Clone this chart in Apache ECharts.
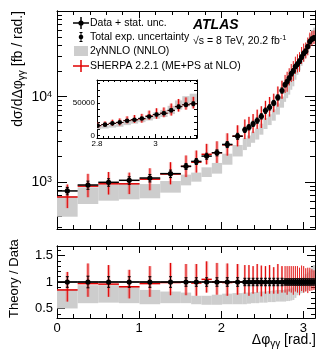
<!DOCTYPE html>
<html>
<head>
<meta charset="utf-8">
<script src="https://cdn.jsdelivr.net/npm/echarts@6/dist/echarts.min.js"></script>
<style>
html, body { margin: 0; padding: 0; background: #fff; }
#chart { width: 332px; height: 356px; }
</style>
</head>
<body>
<div id="chart"></div>
<script>
// ---------------------------------------------
// data
// ---------------------------------------------

// bin edges, in units of pi
const binEdgesPi = [
    0, 0.08, 0.16, 0.24, 0.32, 0.40, 0.48,
    0.52, 0.56, 0.60, 0.64, 0.68, 0.72,
    0.736, 0.752, 0.768, 0.784, 0.80, 0.816, 0.832, 0.848, 0.864, 0.88,
    0.888, 0.896, 0.904, 0.912, 0.92, 0.928, 0.936, 0.944, 0.952, 0.96,
    0.968, 0.976, 0.984, 0.992, 1.0
];

// measured dsigma/dphi [fb/rad]
const dataXsec = [
    793, 930, 1000, 1055, 1122, 1262,
    1535, 1754, 2022, 2215, 2767, 3454,
    4100, 4400, 4820, 5260, 5900, 6870, 7510, 8450, 9800, 11800,
    13800, 15000, 16500, 18500, 20000, 22500, 24000, 26000, 29000,
    32000, 34000, 38500, 44000, 47000, 48500
];

// relative uncertainties of the data
const statRel = [
    0.04, 0.04, 0.04, 0.04, 0.04, 0.04,
    0.03, 0.03, 0.03, 0.03, 0.03, 0.03,
    0.025, 0.025, 0.025, 0.025, 0.025, 0.025, 0.025, 0.025, 0.025, 0.025,
    0.02, 0.02, 0.02, 0.02, 0.02, 0.02, 0.02, 0.02, 0.02,
    0.02, 0.02, 0.02, 0.02, 0.02, 0.02
];
const totRel = [
    0.10, 0.11, 0.10, 0.10, 0.10, 0.10,
    0.08, 0.08, 0.08, 0.08, 0.08, 0.08,
    0.07, 0.07, 0.07, 0.07, 0.07, 0.07, 0.07, 0.07, 0.07, 0.07,
    0.06, 0.06, 0.06, 0.06, 0.06, 0.06, 0.06, 0.06, 0.06,
    0.06, 0.06, 0.06, 0.06, 0.06, 0.06
];

// 2gammaNNLO band, as theory / data
const nnloLo = [
    0.50, 0.60, 0.61, 0.60, 0.58, 0.60,
    0.60, 0.58, 0.57, 0.57, 0.58, 0.58,
    0.58, 0.59, 0.60, 0.60, 0.61, 0.61, 0.62, 0.62, 0.63, 0.63,
    0.63, 0.64, 0.64, 0.65, 0.66, 0.70, 0.75, 0.78, 0.79,
    0.80, 0.83, 0.85, 0.90, 0.95, 1.04
];
const nnloHi = [
    0.86, 0.94, 0.94, 0.92, 0.85, 0.82,
    0.80, 0.74, 0.74, 0.76, 0.78, 0.79,
    0.80, 0.80, 0.81, 0.81, 0.82, 0.82, 0.83, 0.84, 0.85, 0.85,
    0.86, 0.86, 0.87, 0.88, 0.90, 0.95, 1.00, 1.05, 1.08,
    1.10, 1.15, 1.18, 1.22, 1.28, 1.32
];

// SHERPA 2.2.1, as theory / data, with its uncertainty
const sherpaR = [
    0.85, 0.97, 0.96, 0.91, 0.97, 0.99,
    1.00, 0.98, 1.05, 1.00, 0.99, 1.00,
    1.00, 0.98, 1.00, 1.02, 0.97, 1.00, 1.00, 0.98, 1.00, 1.00,
    1.00, 0.98, 1.02, 1.00, 0.98, 1.02, 1.00, 0.97, 1.03,
    1.00, 1.00, 0.99, 1.01, 1.00, 1.00
];
const sherpaUp = [
    0.34, 0.38, 0.36, 0.32, 0.33, 0.37,
    0.34, 0.36, 0.34, 0.36, 0.36, 0.34,
    0.32, 0.34, 0.30, 0.32, 0.34, 0.30, 0.32, 0.30, 0.34, 0.30,
    0.30, 0.32, 0.28, 0.30, 0.32, 0.28, 0.30, 0.30, 0.28,
    0.30, 0.26, 0.28, 0.26, 0.24, 0.22
];
const sherpaDn = [
    0.22, 0.25, 0.24, 0.22, 0.25, 0.24,
    0.25, 0.24, 0.25, 0.24, 0.25, 0.24,
    0.22, 0.24, 0.22, 0.22, 0.24, 0.22, 0.22, 0.20, 0.22, 0.20,
    0.20, 0.22, 0.20, 0.20, 0.22, 0.20, 0.20, 0.22, 0.20,
    0.20, 0.18, 0.20, 0.18, 0.16, 0.15
];

// axis ticks
const mainMajorTicks = [1000, 10000, 100000];
const mainMinorTicks = [
    300, 400, 500, 600, 700, 800, 900,
    2000, 3000, 4000, 5000, 6000, 7000, 8000, 9000,
    20000, 30000, 40000, 50000, 60000, 70000, 80000, 90000
];
const mainLabels = [1000, 10000];
const ratioMajorTicks = [0.5, 1, 1.5];
const ratioMinorTicks = [0.4, 0.6, 0.7, 0.8, 0.9, 1.1, 1.2, 1.3, 1.4, 1.6];
const xLabels = [0, 1, 2, 3];
const insetXLabels = [2.8, 3];
const insetYLabels = [0, 50000];
const insetYTicks = [0, 10000, 20000, 30000, 40000, 50000, 60000, 70000, 80000];

// ---------------------------------------------
// rows for the custom series
// ---------------------------------------------

const FONT = "Liberation Sans, Arial, sans-serif";
const edges = binEdgesPi.map(e => e * Math.PI);

function rows(fn) {
    const out = [];
    for (let i = 0; i < dataXsec.length; i++) {
        out.push(fn(i, edges[i], edges[i + 1], dataXsec[i]));
    }
    return out;
}

const dataMain = rows((i, a, b, d) => [a, b, d,
    d * (1 - statRel[i]), d * (1 + statRel[i]),
    d * (1 - totRel[i]), d * (1 + totRel[i])]);
const dataRatio = rows((i, a, b) => [a, b, 1,
    1 - statRel[i], 1 + statRel[i],
    1 - totRel[i], 1 + totRel[i]]);
const nnloMain = rows((i, a, b, d) => [a, b, nnloLo[i] * d, nnloHi[i] * d]);
const nnloRatio = rows((i, a, b) => [a, b, nnloLo[i], nnloHi[i]]);
const sherpaMain = rows((i, a, b, d) => [a, b, sherpaR[i] * d,
    (sherpaR[i] - sherpaDn[i]) * d, (sherpaR[i] + sherpaUp[i]) * d]);
const sherpaRatio = rows((i, a, b) => [a, b, sherpaR[i],
    sherpaR[i] - sherpaDn[i], sherpaR[i] + sherpaUp[i]]);

// ---------------------------------------------
// render helpers
// ---------------------------------------------

function renderBand(params, api) {
    const p0 = api.coord([api.value(0), api.value(3)]);
    const p1 = api.coord([api.value(1), api.value(2)]);
    return {
        type: "rect",
        shape: { x: p0[0], y: p0[1], width: p1[0] - p0[0], height: p1[1] - p0[1] },
        style: { fill: "#cdcdcd" }
    };
}

function makeSherpa(lw) {
    return function (params, api) {
        const x0 = api.value(0), x1 = api.value(1), xm = (x0 + x1) / 2;
        const l = api.coord([x0, api.value(2)]);
        const r = api.coord([x1, api.value(2)]);
        const t = api.coord([xm, api.value(4)]);
        const b = api.coord([xm, api.value(3)]);
        // pink part gets narrower in the fine bins
        const w = Math.min(3.2, (r[0] - l[0]) * 0.5);
        return {
            type: "group",
            children: [
                {
                    type: "rect",
                    shape: { x: t[0] - w / 2, y: t[1], width: w, height: b[1] - t[1] },
                    style: { fill: "rgba(236,110,110,0.55)" }
                },
                {
                    type: "line",
                    shape: { x1: t[0], y1: t[1], x2: b[0], y2: b[1] },
                    style: { stroke: "#e00000", lineWidth: w < 2 ? 0.8 : 1 }
                },
                {
                    type: "line",
                    shape: { x1: l[0], y1: l[1], x2: r[0], y2: r[1] },
                    style: { stroke: "#e00000", lineWidth: lw }
                }
            ]
        };
    };
}

function makeData(rad, lw) {
    return function (params, api) {
        const x0 = api.value(0), x1 = api.value(1), xm = (x0 + x1) / 2;
        const l = api.coord([x0, api.value(2)]);
        const r = api.coord([x1, api.value(2)]);
        const c = api.coord([xm, api.value(2)]);
        const st = api.coord([xm, api.value(4)]);
        const sb = api.coord([xm, api.value(3)]);
        const tt = api.coord([xm, api.value(6)]);
        const tb = api.coord([xm, api.value(5)]);
        const ink = { stroke: "#000", lineWidth: 1 };
        return {
            type: "group",
            children: [
                { type: "line", shape: { x1: l[0], y1: l[1], x2: r[0], y2: r[1] }, style: { stroke: "#000", lineWidth: lw } },
                { type: "line", shape: { x1: tt[0], y1: tt[1], x2: tb[0], y2: tb[1] }, style: ink },
                { type: "line", shape: { x1: tt[0] - 1.5, y1: tt[1], x2: tt[0] + 1.5, y2: tt[1] }, style: ink },
                { type: "line", shape: { x1: tb[0] - 1.5, y1: tb[1], x2: tb[0] + 1.5, y2: tb[1] }, style: ink },
                { type: "line", shape: { x1: st[0], y1: st[1], x2: sb[0], y2: sb[1] }, style: { stroke: "#000", lineWidth: 1.6 } },
                { type: "circle", shape: { cx: c[0], cy: c[1], r: rad }, style: { fill: "#000" } }
            ]
        };
    };
}

// ---------------------------------------------
// axes
// ---------------------------------------------

const lineStyle = { color: "#000", width: 1 };

function xAxisDef(grid, pos, labels) {
    return {
        type: "value",
        gridIndex: grid,
        position: pos,
        min: 0,
        max: Math.PI,
        interval: 1,
        axisLine: { show: true, onZero: false, lineStyle: lineStyle },
        axisTick: { show: true, inside: true, length: 7, lineStyle: lineStyle },
        minorTick: { show: true, splitNumber: 5, length: 4, lineStyle: lineStyle },
        splitLine: { show: false },
        axisLabel: labels ? {
            customValues: labels,
            margin: 4,
            fontSize: 13,
            color: "#000",
            fontFamily: FONT
        } : { show: false }
    };
}

function yAxisDef(grid, pos, type, min, max, ticks, len, labels, labelOpt) {
    return {
        type: type,
        gridIndex: grid,
        position: pos,
        min: min,
        max: max,
        axisLine: { show: true, onZero: false, lineStyle: lineStyle },
        axisTick: { show: true, inside: true, length: len, customValues: ticks, lineStyle: lineStyle },
        minorTick: { show: false },
        splitLine: { show: false },
        axisLabel: labels ? Object.assign({
            customValues: labels,
            color: "#000",
            fontFamily: FONT
        }, labelOpt) : { show: false }
    };
}

const mainLabelOpt = {
    margin: 5,
    formatter: v => "{b|10}{s|" + Math.round(Math.log10(v)) + "}",
    rich: {
        b: { fontSize: 14, fontFamily: FONT, color: "#000" },
        s: { fontSize: 9, fontFamily: FONT, color: "#000", verticalAlign: "top" }
    }
};
const ratioLabelOpt = { margin: 4, fontSize: 13 };
const insetYLabelOpt = { margin: 2, fontSize: 8, formatter: v => String(v) };

const MAIN_MIN = 285, MAIN_MAX = 100000;
const RATIO_MIN = 0.32, RATIO_MAX = 1.68;
const INSET_MIN = -4000, INSET_MAX = 85000;

const legendText = { fontSize: 10.5, fontFamily: FONT, fill: "#000", verticalAlign: "middle" };

const option = {
    animation: false,
    backgroundColor: "#fff",
    grid: [
        { left: 57, top: 11, width: 258, height: 218 },
        { left: 57, top: 246, width: 258, height: 72 },
        { left: 97, top: 80, width: 100, height: 58, backgroundColor: "#fff", show: true, borderWidth: 0 }
    ],
    xAxis: [
        xAxisDef(0, "bottom", null),
        xAxisDef(0, "top", null),
        xAxisDef(1, "bottom", xLabels),
        xAxisDef(1, "top", null),
        {
            type: "value", gridIndex: 2, position: "bottom",
            min: 2.8, max: Math.PI, interval: 0.2,
            axisLine: { show: true, onZero: false, lineStyle: lineStyle },
            axisTick: { show: true, inside: true, length: 4, lineStyle: lineStyle },
            minorTick: { show: true, splitNumber: 10, length: 2, lineStyle: lineStyle },
            splitLine: { show: false },
            axisLabel: { customValues: insetXLabels, margin: 2, fontSize: 8, color: "#000", fontFamily: FONT }
        },
        {
            type: "value", gridIndex: 2, position: "top",
            min: 2.8, max: Math.PI, interval: 0.2,
            axisLine: { show: true, onZero: false, lineStyle: lineStyle },
            axisTick: { show: true, inside: true, length: 4, lineStyle: lineStyle },
            minorTick: { show: true, splitNumber: 10, length: 2, lineStyle: lineStyle },
            splitLine: { show: false },
            axisLabel: { show: false }
        }
    ],
    yAxis: [
        yAxisDef(0, "left", "log", MAIN_MIN, MAIN_MAX, mainMajorTicks, 10, mainLabels, mainLabelOpt),
        yAxisDef(0, "left", "log", MAIN_MIN, MAIN_MAX, mainMinorTicks, 5, null),
        yAxisDef(0, "right", "log", MAIN_MIN, MAIN_MAX, mainMajorTicks, 10, null),
        yAxisDef(0, "right", "log", MAIN_MIN, MAIN_MAX, mainMinorTicks, 5, null),
        yAxisDef(1, "left", "value", RATIO_MIN, RATIO_MAX, ratioMajorTicks, 8, ratioMajorTicks, ratioLabelOpt),
        yAxisDef(1, "left", "value", RATIO_MIN, RATIO_MAX, ratioMinorTicks, 4, null),
        yAxisDef(1, "right", "value", RATIO_MIN, RATIO_MAX, ratioMajorTicks, 8, null),
        yAxisDef(1, "right", "value", RATIO_MIN, RATIO_MAX, ratioMinorTicks, 4, null),
        yAxisDef(2, "left", "value", INSET_MIN, INSET_MAX, insetYTicks, 3, insetYLabels, insetYLabelOpt),
        yAxisDef(2, "right", "value", INSET_MIN, INSET_MAX, insetYTicks, 3, null)
    ],
    series: [
        // main panel
        { type: "custom", xAxisIndex: 0, yAxisIndex: 0, clip: true, renderItem: renderBand, data: nnloMain, encode: { x: [0, 1], y: [2, 3] } },
        { type: "custom", xAxisIndex: 0, yAxisIndex: 0, clip: true, renderItem: makeSherpa(1.5), data: sherpaMain, encode: { x: [0, 1], y: [2, 3, 4] } },
        { type: "custom", xAxisIndex: 0, yAxisIndex: 0, clip: true, renderItem: makeData(2.6, 1.5), data: dataMain, encode: { x: [0, 1], y: [2, 3, 4, 5, 6] } },
        // ratio panel
        { type: "custom", xAxisIndex: 2, yAxisIndex: 4, clip: true, renderItem: renderBand, data: nnloRatio, encode: { x: [0, 1], y: [2, 3] } },
        {
            type: "line", xAxisIndex: 2, yAxisIndex: 4, data: [[0, 1], [Math.PI, 1]],
            symbol: "none", lineStyle: { color: "#000", width: 1.2 }, silent: true
        },
        { type: "custom", xAxisIndex: 2, yAxisIndex: 4, clip: true, renderItem: makeSherpa(1.5), data: sherpaRatio, encode: { x: [0, 1], y: [2, 3, 4] } },
        { type: "custom", xAxisIndex: 2, yAxisIndex: 4, clip: true, renderItem: makeData(2.6, 1.5), data: dataRatio, encode: { x: [0, 1], y: [2, 3, 4, 5, 6] } },
        // inset
        { type: "custom", xAxisIndex: 4, yAxisIndex: 8, clip: true, renderItem: renderBand, data: nnloMain, encode: { x: [0, 1], y: [2, 3] }, z: 5 },
        { type: "custom", xAxisIndex: 4, yAxisIndex: 8, clip: true, renderItem: makeSherpa(1), data: sherpaMain, encode: { x: [0, 1], y: [2, 3, 4] }, z: 5 },
        { type: "custom", xAxisIndex: 4, yAxisIndex: 8, clip: true, renderItem: makeData(2.3, 1), data: dataMain, encode: { x: [0, 1], y: [2, 3, 4, 5, 6] }, z: 5 }
    ],
    graphic: [
        // y titles
        {
            type: "text", x: 18, y: 11, rotation: Math.PI / 2,
            style: {
                text: "{n|dσ/dΔφ}{s|γγ}{n| [fb / rad.]}",
                align: "right", verticalAlign: "middle",
                rich: {
                    n: { fontSize: 14, fontFamily: FONT, fill: "#000", lineHeight: 18 },
                    s: { fontSize: 10, fontFamily: FONT, fill: "#000", verticalAlign: "bottom", lineHeight: 11 }
                }
            }
        },
        {
            type: "text", x: 14, y: 318, rotation: Math.PI / 2,
            style: { text: "Theory / Data", align: "left", verticalAlign: "middle", fontSize: 13, fontFamily: FONT, fill: "#000" }
        },
        // x title
        {
            type: "text", x: 316, y: 340,
            style: {
                text: "{n|Δφ}{s|γγ}{n| [rad.]}",
                align: "right", verticalAlign: "middle",
                rich: {
                    n: { fontSize: 14, fontFamily: FONT, fill: "#000", lineHeight: 18 },
                    s: { fontSize: 10, fontFamily: FONT, fill: "#000", verticalAlign: "bottom", lineHeight: 11 }
                }
            }
        },
        // ATLAS label
        {
            type: "text", x: 193, y: 25,
            style: { text: "ATLAS", fontSize: 14, fontWeight: "bold", fontStyle: "italic", fontFamily: FONT, fill: "#000", verticalAlign: "middle" }
        },
        {
            type: "text", x: 193, y: 41,
            style: {
                text: "{n|√s = 8 TeV, 20.2 fb}{s|-1}",
                verticalAlign: "middle",
                rich: {
                    n: { fontSize: 10.5, fontFamily: FONT, fill: "#000", lineHeight: 14 },
                    s: { fontSize: 7.5, fontFamily: FONT, fill: "#000", verticalAlign: "top", lineHeight: 8 }
                }
            }
        },
        // legend: data
        { type: "line", shape: { x1: 73, y1: 23, x2: 89, y2: 23 }, style: { stroke: "#000", lineWidth: 1.5 } },
        { type: "line", shape: { x1: 81, y1: 17, x2: 81, y2: 29 }, style: { stroke: "#000", lineWidth: 1.5 } },
        { type: "circle", shape: { cx: 81, cy: 23, r: 2.6 }, style: { fill: "#000" } },
        { type: "text", x: 90, y: 23, style: Object.assign({ text: "Data + stat. unc." }, legendText) },
        // legend: total exp
        { type: "line", shape: { x1: 81, y1: 32.5, x2: 81, y2: 41.5 }, style: { stroke: "#000", lineWidth: 1 } },
        { type: "line", shape: { x1: 79.5, y1: 32.5, x2: 82.5, y2: 32.5 }, style: { stroke: "#000", lineWidth: 1 } },
        { type: "line", shape: { x1: 79.5, y1: 41.5, x2: 82.5, y2: 41.5 }, style: { stroke: "#000", lineWidth: 1 } },
        { type: "circle", shape: { cx: 81, cy: 37, r: 2.3 }, style: { fill: "#000" } },
        { type: "text", x: 90, y: 37, style: Object.assign({ text: "Total exp. uncertainty" }, legendText) },
        // legend: NNLO
        { type: "rect", shape: { x: 74, y: 46, width: 14, height: 10 }, style: { fill: "#cdcdcd" } },
        { type: "text", x: 90, y: 51, style: Object.assign({ text: "2γNNLO (NNLO)" }, legendText) },
        // legend: SHERPA
        { type: "line", shape: { x1: 73, y1: 66, x2: 89, y2: 66 }, style: { stroke: "#e00000", lineWidth: 1.5 } },
        { type: "line", shape: { x1: 81, y1: 60, x2: 81, y2: 72 }, style: { stroke: "#e00000", lineWidth: 1.5 } },
        { type: "text", x: 90, y: 66, style: Object.assign({ text: "SHERPA 2.2.1 (ME+PS at NLO)" }, legendText) }
    ]
};

const chart = echarts.init(document.getElementById("chart"), null, { renderer: "canvas" });
chart.setOption(option);
</script>
</body>
</html>
